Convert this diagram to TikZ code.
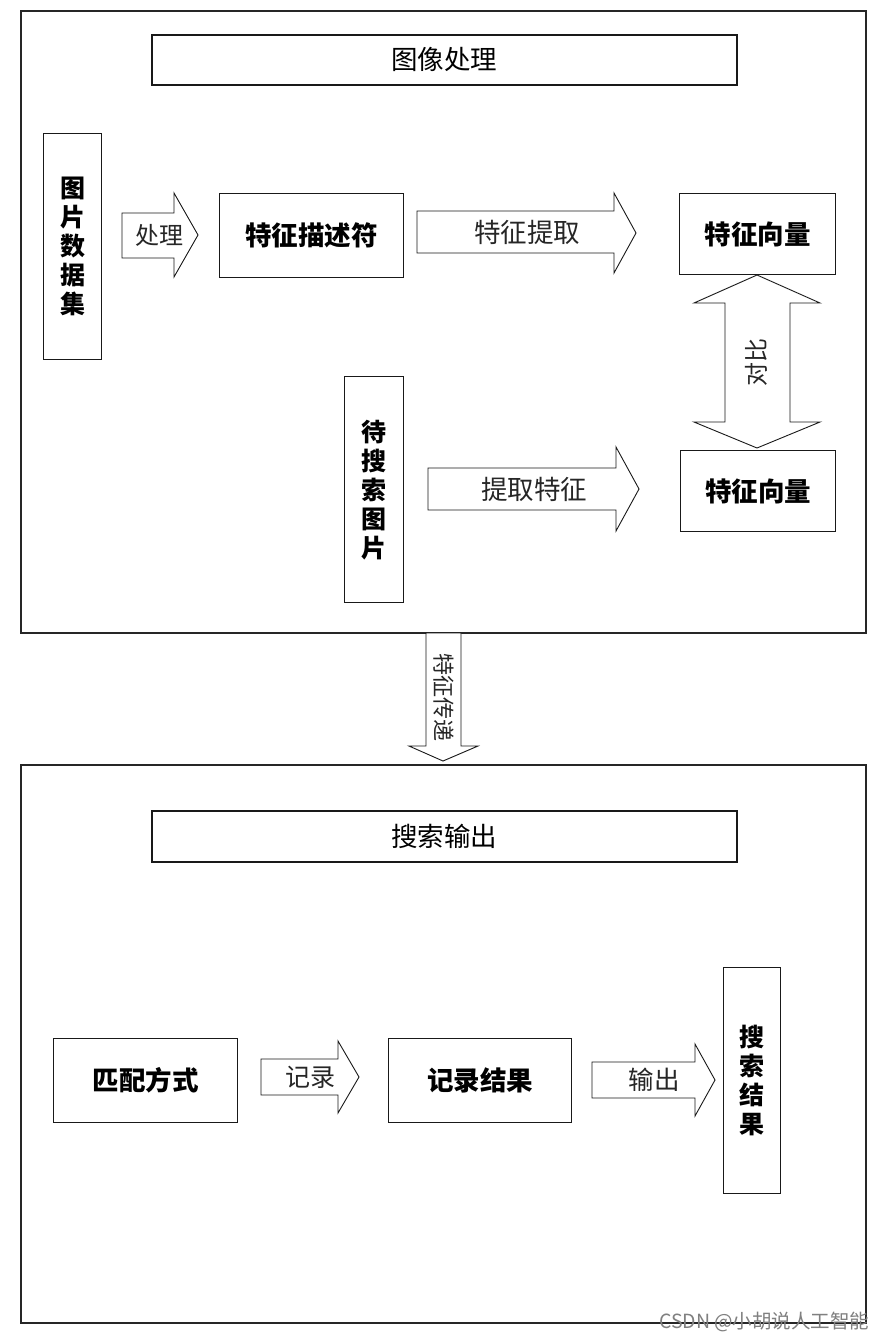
\documentclass[tikz,border=0pt]{standalone}
\usepackage{fontspec}
\setmainfont{Liberation Serif}
\newfontfamily\cjk{Noto Sans CJK SC}
\newfontfamily\wmfont{Noto Sans CJK SC}
\begin{document}
\begin{tikzpicture}[x=1pt,y=-1pt,
  frame/.style={draw=black!85, line width=1.2pt},
  titlebox/.style={draw=black!90, line width=1.6pt, anchor=north west, inner sep=0pt,
    font=\cjk\fontsize{26.5}{30}\selectfont},
  box/.style={draw=black!90, line width=1.3pt, anchor=north west, inner sep=0pt,
    font=\cjk\bfseries\fontsize{26.5}{30}\selectfont},
  vbox/.style={draw=black!90, line width=1.3pt, anchor=north west, inner sep=0pt, align=center,
    font=\cjk\bfseries\fontsize{25}{29}\selectfont},
  blockarrow/.style={draw=black!90, line width=0.9pt, fill=white, line join=miter},
  arrowtext/.style={font=\cjk\fontsize{26.5}{30}\selectfont, text=black!85},
]
\useasboundingbox (0,0) rectangle (888,1342);
\fill[white] (0,0) rectangle (888,1342);

% outer frames
\draw[frame] (21,11) rectangle (866,633);
\draw[frame] (21,765) rectangle (866,1323);

% titles
\node[titlebox, minimum width=585pt, minimum height=50pt] (t1) at (151,34) {图像处理};
\node[titlebox, minimum width=585pt, minimum height=51pt] (t2) at (151,810) {搜索输出};

% top section boxes
\node[vbox, minimum width=58pt, minimum height=226pt] (ds) at (43,133) {图\\片\\数\\据\\集};
\node[box, minimum width=184pt, minimum height=84pt] (fd) at (219,193) {特征描述符};
\node[box, minimum width=156pt, minimum height=81pt] (fv1) at (679,193) {特征向量};
\node[vbox, minimum width=59pt, minimum height=226pt] (qi) at (344,376) {待\\搜\\索\\图\\片};
\node[box, minimum width=155pt, minimum height=81pt] (fv2) at (680,450) {特征向量};

% bottom section boxes
\node[box, minimum width=184pt, minimum height=84pt] (mm) at (53,1038) {匹配方式};
\node[box, minimum width=183pt, minimum height=84pt] (rr) at (388,1038) {记录结果};
\node[vbox, minimum width=57pt, minimum height=226pt] (sr) at (723,967) {搜\\索\\结\\果};

% block arrows (top)
\draw[blockarrow] (122,213) -- (174,213) -- (174,193) -- (198,235) -- (174,277) -- (174,258) -- (122,258) -- cycle;
\node[arrowtext, font=\cjk\fontsize{24}{28}\selectfont] (a1) at (159,235) {处理};

\draw[blockarrow] (417,211) -- (614,211) -- (614,193) -- (636,233) -- (614,273) -- (614,253) -- (417,253) -- cycle;
\node[arrowtext] (a2) at (527,232) {特征提取};

\draw[blockarrow] (428,468) -- (616,468) -- (616,447) -- (639,489) -- (616,531) -- (616,510) -- (428,510) -- cycle;
\node[arrowtext] (a3) at (534,489) {提取特征};

% double arrow
\draw[blockarrow] (757,275) -- (820,303) -- (790,303) -- (790,422) -- (820,422) -- (757,448)
  -- (694,422) -- (725,422) -- (725,303) -- (694,303) -- cycle;
\node[arrowtext, rotate=90, font=\cjk\fontsize{24}{28}\selectfont] (a4) at (756,362) {对比};

% down arrow between sections
\draw[blockarrow] (426,633) -- (461,633) -- (461,746) -- (478,746) -- (443,761) -- (409,746) -- (426,746) -- cycle;
\node[arrowtext, rotate=-90, font=\cjk\fontsize{22}{25}\selectfont] (a5) at (444,697) {特征传递};

% block arrows (bottom)
\draw[blockarrow] (261,1059) -- (338,1059) -- (338,1041) -- (359,1077) -- (338,1113) -- (338,1095) -- (261,1095) -- cycle;
\node[arrowtext, font=\cjk\fontsize{25}{28}\selectfont] (a6) at (310,1077) {记录};

\draw[blockarrow] (592,1062) -- (695,1062) -- (695,1044) -- (715,1080) -- (695,1116) -- (695,1098) -- (592,1098) -- cycle;
\node[arrowtext, font=\cjk\fontsize{25.5}{28}\selectfont] (a7) at (654,1080) {输出};

% watermark
\node[anchor=east, text=black!50, font=\wmfont\fontsize{19.5}{22}\selectfont] (wm) at (873,1322) {CSDN @小胡说人工智能};
\end{tikzpicture}
\end{document}
